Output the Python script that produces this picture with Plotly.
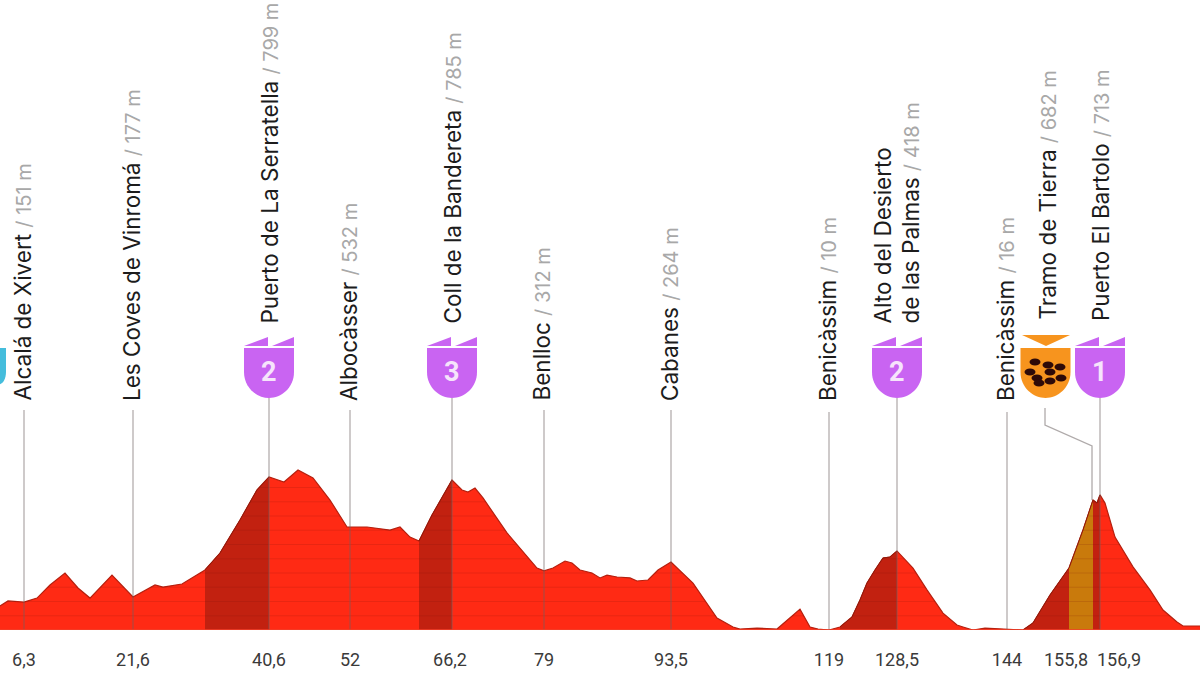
import plotly.graph_objects as go

# position along the drawn profile, and elevation in metres
profile_pos = [0,8,24,37,50,65,78,90,112,125,133,155,163,182,205,220,240,257,269,284,298,313,330,347,367,390,400,410,419,432,452,462,468,475,483,507,537,544,553,565,572,580,592,600,607,617,630,637,648,658,671,693,717,733,740,757,777,800,810,818,829,840,852,860,867,875,883,890,897,913,927,943,957,963,973,985,1007,1023,1033,1050,1069,1083,1093,1097,1100,1105,1115,1133,1150,1163,1177,1183,1200]
profile_elev = [126,153,147,168,237,300,221,168,289,221,174,237,226,242,316,405,579,737,805,779,842,800,684,542,542,526,542,489,468,605,789,737,726,747,695,511,326,311,326,363,353,316,300,274,289,279,274,258,263,316,358,247,63,16,5,10,5,110,16,5,0,16,68,158,247,316,379,384,416,326,211,89,26,16,0,10,5,0,37,184,326,526,684,668,711,668,489,332,211,105,42,21,21]

climb_spans = [(205,269),(419,452),(840,897),(1023,1069),(1093,1100)]
dirt_span = (1069,1093)
stripe_levels = [75,150,225,300,375,450,525,600,675,750]

names = ["Alcalá de Xivert","Les Coves de Vinromá","Puerto de La Serratella","Albocàsser","Coll de la Bandereta","Benlloc","Cabanes","Benicàssim","Alto del Desierto<br>de las Palmas","Benicàssim","Tramo de Tierra","Puerto El Bartolo"]
heights = ["151 m","177 m","799 m","532 m","785 m","312 m","264 m","10 m","418 m","16 m","682 m","713 m"]
name_pos = [22,131,269,348,452,541,669,827,896,1005,1047,1100]
name_bottom = [403,403,326,403,326,403,403,403,326,403,322,323]

km_labels = ["6,3","21,6","40,6","52","66,2","79","93,5","119","128,5","144","155,8","156,9"]
km_pos = [24,133,269,350,450,544,671,829,897,1007,1066,1119]

line_pos = [24,133,269,350,452,544,671,829,897,1007,1100]
line_top = [410,410,398,410,398,410,410,412,398,412,398]

climb_pos = [269,452,897,1100]
climb_cat = ["2","3","2","1"]

rock_x = [1035,1048,1060,1030,1037,1050,1061,1039,1050]
rock_y = [362,365,367,372,378,372,378,383,381]

RED, DARK, DIRT = "#FF2A14", "#C22110", "#C97A0C"
PURPLE, ORANGE, CYAN = "#C964F2", "#F7941E", "#45BDDC"
H = 675
BASE = 630
SCALE = 0.19
def m(py):
    return (BASE - py) / SCALE

fig = go.Figure()
fig.add_trace(go.Scatter(x=profile_pos, y=profile_elev, mode="lines", fill="tozeroy",
                         fillcolor=RED, line=dict(color="#B5200F", width=1.2), hoverinfo="skip"))

def span(a, b, col):
    xs = [x for x in profile_pos if a <= x <= b]
    ys = [e for x, e in zip(profile_pos, profile_elev) if a <= x <= b]
    fig.add_trace(go.Scatter(x=xs, y=ys, mode="lines", fill="tozeroy", fillcolor=col,
                             line=dict(color="#8E1A0C", width=1.0), hoverinfo="skip"))
for a, b in climb_spans:
    span(a, b, DARK)
span(dirt_span[0], dirt_span[1], DIRT)

# faint horizontal stripes, cut to the profile outline
sx, sy = [], []
for lev in stripe_levels:
    start = profile_pos[0] if profile_elev[0] >= lev else None
    for i in range(len(profile_pos) - 1):
        x0, x1, e0, e1 = profile_pos[i], profile_pos[i+1], profile_elev[i], profile_elev[i+1]
        if (e0 < lev) != (e1 < lev):
            cross = x0 + (lev - e0) * (x1 - x0) / (e1 - e0)
            if start is None:
                start = cross
            else:
                sx += [start, cross, None]
                sy += [lev, lev, None]
                start = None
fig.add_trace(go.Scatter(x=sx, y=sy, mode="lines", hoverinfo="skip",
                         line=dict(color="rgba(120,20,10,0.16)", width=1)))

# vertical leader lines
lx, ly = [], []
for x, t in zip(line_pos, line_top):
    lx += [x, x, None]
    ly += [m(t), m(643), None]
fig.add_trace(go.Scatter(x=lx, y=ly, mode="lines", cliponaxis=False,
                         line=dict(color="rgba(110,100,100,0.45)", width=1.5), hoverinfo="skip"))
# dirt connector and km brackets
fig.add_trace(go.Scatter(x=[1045,1045,1092,1092,None,1070,1070,1093,1093,None,1100,1100,1118,1118],
                         y=[m(408),m(425),m(446),m(500),None,m(643),m(639),m(639),m(630),None,m(630),m(639),m(639),m(643)],
                         mode="lines", cliponaxis=False,
                         line=dict(color="rgba(110,100,100,0.55)", width=1.3), hoverinfo="skip"))
# baseline
fig.add_trace(go.Scatter(x=[0,1200], y=[0,0], mode="lines", cliponaxis=False,
                         line=dict(color="#F2402A", width=1.5), hoverinfo="skip"))

shapes, ann = [], []
def P(x, y):
    return f"{x:.1f},{m(y):.1f}"
def shield(cx, col):
    l, r = cx-25, cx+25
    return (f"M{P(l,348)} L{P(r,348)} L{P(r,372)} C{P(r,388)} {P(cx+12,398)} {P(cx,398)} "
            f"C{P(cx-12,398)} {P(l,388)} {P(l,372)} Z")
for cx, cat in zip(climb_pos, climb_cat):
    shapes.append(dict(type="path", path=shield(cx, PURPLE), fillcolor=PURPLE, line_width=0, layer="above"))
    shapes.append(dict(type="path", path=f"M{P(cx-25,346)} L{P(cx-1,337)} L{P(cx-1,346)} Z", fillcolor=PURPLE, line_width=0, layer="above"))
    shapes.append(dict(type="path", path=f"M{P(cx+3,346)} L{P(cx+25,337)} L{P(cx+25,346)} Z", fillcolor=PURPLE, line_width=0, layer="above"))
    ann.append(dict(x=cx, y=m(372), text=f"<b>{cat}</b>", showarrow=False, xanchor="center", yanchor="middle",
                    font=dict(family="Roboto", size=27, color="#F6E4FB")))
# dirt badge
shapes.append(dict(type="path", path=shield(1045.5, ORANGE), fillcolor=ORANGE, line_width=0, layer="above"))
shapes.append(dict(type="path", path=f"M{P(1022,335)} L{P(1070,335)} L{P(1046,346)} Z", fillcolor=ORANGE, line_width=0, layer="above"))
for rx, ry in zip(rock_x, rock_y):
    shapes.append(dict(type="circle", x0=rx-5.5, x1=rx+5.5, y0=m(ry+3.5), y1=m(ry-3.5),
                       fillcolor="#2E0A08", line_width=0, layer="above"))
# start badge, cut by left edge
shapes.append(dict(type="path", path=f"M{P(-20,348)} L{P(6,348)} L{P(6,372)} C{P(6,380)} {P(2,385)} {P(-3,385)} Z",
                   fillcolor=CYAN, line_width=0, layer="above"))

for n, h, x, b in zip(names, heights, name_pos, name_bottom):
    ann.append(dict(x=x, y=m(b), textangle=-90, showarrow=False, xanchor="center", yanchor="bottom",
                    align="left",
                    text=f"<span style='color:#1c1c1c;font-size:22.5px'>{n}</span> <span style='color:#a8a8a8;font-size:20px'>/ {h}</span>",
                    font=dict(family="Inter", size=22)))

fig.update_layout(
    width=1200, height=675, margin=dict(l=0, r=0, t=0, b=H-BASE),
    paper_bgcolor="white", plot_bgcolor="white", showlegend=False,
    shapes=shapes, annotations=ann,
    xaxis=dict(range=[0,1200], showgrid=False, zeroline=False, showline=False, ticks="",
               tickmode="array", tickvals=km_pos, ticktext=km_labels, ticklabelstandoff=17,
               tickfont=dict(family="Roboto", size=18, color="#3a3a3a")),
    yaxis=dict(range=[0, BASE/SCALE], visible=False),
)
fig.write_html("out.html", config={"displayModeBar": False},
               post_script="document.documentElement.style.overflow='hidden';document.body.style.margin='0';")
